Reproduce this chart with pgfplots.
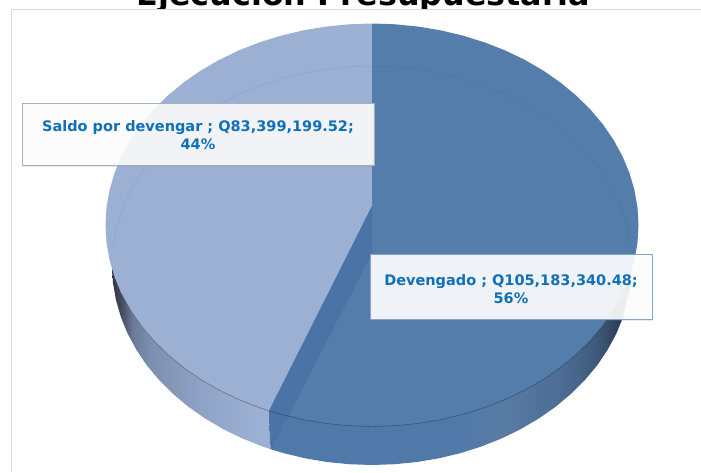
\documentclass[border=0pt]{standalone}
\usepackage{fontspec}
\setmainfont{DejaVu Sans}
\usepackage{pgfplots}
\usetikzlibrary{shadows}
\pgfplotsset{compat=1.18}
\definecolor{lightslice}{HTML}{9BB0D2}
\definecolor{darkslice}{HTML}{557DAC}
\definecolor{cutface}{HTML}{4A74A6}
\definecolor{labeltext}{HTML}{0F70B7}
\definecolor{sl0}{HTML}{2F3440}
\definecolor{sl1}{HTML}{454D5F}
\definecolor{sl2}{HTML}{6A7A98}
\definecolor{sl3}{HTML}{7D8FB0}
\definecolor{sl4}{HTML}{8EA2C5}
\definecolor{sr0}{HTML}{5079AA}
\definecolor{sr1}{HTML}{587BA4}
\definecolor{sr2}{HTML}{4D6C96}
\definecolor{sr3}{HTML}{466488}
\definecolor{sr4}{HTML}{3A5372}
\definecolor{sr5}{HTML}{2A3D57}
% the gradients run over the middle 50bp of the declared 100bp
\pgfdeclarehorizontalshading{sideleft}{100bp}{
  color(0bp)=(sl0);
  color(25bp)=(sl0);
  color(28bp)=(sl1);
  color(31.5bp)=(sl2);
  color(37bp)=(sl3);
  color(52.5bp)=(sl4);
  color(70bp)=(lightslice);
  color(100bp)=(lightslice)}
\pgfdeclarehorizontalshading{sideright}{100bp}{
  color(0bp)=(sr0);
  color(50bp)=(sr0);
  color(57.5bp)=(sr1);
  color(65bp)=(sr2);
  color(68bp)=(sr3);
  color(71bp)=(sr4);
  color(73.5bp)=(sr5);
  color(100bp)=(sr5)}
\begin{document}
\begin{tikzpicture}
\path[use as bounding box,clip] (0,0) rectangle (701pt,472pt);
\begin{axis}[
  at={(0,0)}, anchor=south west,
  scale only axis, width=701pt, height=472pt,
  xmin=0, xmax=701, ymin=0, ymax=472, y dir=reverse,
  hide axis, clip=false,
]
% title, cut by the top edge and by the chart area as in the source
\node[anchor=base, font=\fontsize{31.8pt}{36pt}\selectfont\bfseries, text=black]
  at (axis cs:363.5,5.5) {Ejecución Presupuestaria};
\addplot[draw=none, fill=white, forget plot] coordinates {
  (0,8.5) (701,8.5) (701,472) (0,472)
} --cycle;
% frame of the chart area
\addplot[draw=black!15, line width=0.9pt, forget plot] coordinates {
  (11.5,472) (11.5,9.5) (701,9.5)
};
% side of the 44% slice, lower rim
\addplot[draw=none, shade, shading=sideleft, forget plot] coordinates {
  (270.4,449.1) (262.1,446.3) (242,438.3) (222.9,428.9) (204.9,418.3)
  (188.2,406.6) (172.8,393.7) (159,379.9) (146.8,365.3) (136.4,349.8)
  (127.7,333.7) (120.9,317.1) (116,300.1) (113,282.9) (112,265.5)
  (269,411)
} --cycle;
% side of the 56% slice, lower rim
\addplot[draw=none, shade, shading=sideright, forget plot] coordinates {
  (631,265.5) (631,282.9) (623.1,317.1) (616.3,333.7) (607.6,349.8)
  (597.2,365.3) (585,379.9) (571.2,393.7) (555.8,406.6) (539.1,418.3)
  (521.1,428.9) (502,438.3) (481.9,446.3) (460.9,453) (439.3,458.2)
  (417.1,462) (394.7,464.2) (372,465) (349.3,464.2) (326.9,462)
  (304.7,458.2) (283.1,453) (270.4,449.1) (269,411) (372,225)
} --cycle;
% Saldo por devengar, top face
\addplot[draw=none, fill=lightslice, forget plot] coordinates {
  (372,23.5) (348.8,24.3) (325.7,26.6) (303,30.4) (280.9,35.7)
  (259.4,42.4) (238.7,50.5) (219.1,59.9) (200.7,70.6) (183.6,82.5)
  (167.9,95.5) (153.7,109.4) (141.2,124.2) (130.5,139.8) (121.6,156.1)
  (114.6,172.8) (109.6,190) (106.5,207.4) (105.5,225) (106.5,242.6)
  (109.6,260) (114.6,277.2) (121.6,293.9) (130.5,310.2) (141.2,325.8)
  (153.7,340.6) (167.9,354.5) (183.6,367.5) (200.7,379.4) (219.1,390.1)
  (238.7,399.5) (259.4,407.6) (269,410.9) (372,206)
} --cycle;
% Devengado, top face
\addplot[draw=none, fill=darkslice, forget plot] coordinates {
  (372,23.5) (395.2,24.3) (418.3,26.6) (441,30.4) (463.1,35.7)
  (484.6,42.4) (505.3,50.5) (524.9,59.9) (543.3,70.6) (560.4,82.5)
  (576.1,95.5) (590.3,109.4) (602.8,124.2) (613.5,139.8) (622.4,156.1)
  (629.4,172.8) (634.4,190) (637.5,207.4) (638.5,225) (637.5,242.6)
  (634.4,260) (629.4,277.2) (622.4,293.9) (613.5,310.2) (602.8,325.8)
  (590.3,340.6) (576.1,354.5) (560.4,367.5) (543.3,379.4) (524.9,390.1)
  (505.3,399.5) (484.6,407.6) (463.1,414.3) (441,419.6) (418.3,423.4)
  (395.2,425.7) (372,426.5) (348.8,425.7) (325.7,423.4) (303,419.6)
  (280.9,414.3) (269,410.9) (372,206)
} --cycle;
% cut face seen through the slices
\addplot[draw=none, fill=cutface, forget plot] coordinates {
  (372,206) (269,410.9) (271.7,449) (372,253)
} --cycle;
% rim line of the top face
\addplot[draw=black!45!darkslice, line width=0.4pt, forget plot] coordinates {
  (622.4,293.9) (613.5,310.2) (602.8,325.8) (590.3,340.6) (576.1,354.5)
  (560.4,367.5) (543.3,379.4) (524.9,390.1) (505.3,399.5) (484.6,407.6)
  (463.1,414.3) (441,419.6) (418.3,423.4) (395.2,425.7) (372,426.5)
  (348.8,425.7) (325.7,423.4) (303,419.6) (280.9,414.3) (269,410.9)
};
\addplot[draw=black!45!lightslice, line width=0.4pt, forget plot] coordinates {
  (269,410.9) (259.4,407.6) (238.7,399.5) (219.1,390.1) (200.7,379.4)
  (183.6,367.5) (167.9,354.5) (153.7,340.6) (141.2,325.8) (130.5,310.2)
  (121.6,293.9)
};
% lower ellipse showing faintly through the top
\addplot[draw=black, opacity=0.07, line width=0.5pt, forget plot] coordinates {
  (113,248.1) (116,230.9) (120.9,213.9) (127.7,197.3) (136.4,181.2)
  (146.8,165.7) (159,151.1) (172.8,137.3) (188.2,124.4) (204.9,112.7)
  (222.9,102.1) (242,92.7) (262.1,84.7) (283.1,78) (304.7,72.8)
  (326.9,69) (349.3,66.8) (372,66) (394.7,66.8) (417.1,69)
  (439.3,72.8) (460.9,78) (481.9,84.7) (502,92.7) (521.1,102.1)
  (539.1,112.7) (555.8,124.4) (571.2,137.3) (585,151.1) (597.2,165.7)
  (607.6,181.2) (616.3,197.3) (623.1,213.9) (628,230.9) (631,248.1)
};
% labels
\node[draw=black!20!lightslice!70!white, line width=0.8pt, fill=white, fill opacity=0.87, text opacity=1,
  minimum width=352pt, minimum height=62pt, inner sep=0pt, align=center,
  drop shadow={shadow xshift=1pt, shadow yshift=-1.5pt, opacity=0.18},
  text=labeltext, font=\fontsize{14.5pt}{18pt}\selectfont\bfseries]
  at (axis cs:198,134) {\rule{0pt}{14pt}Saldo por devengar ; Q83,399,199.52;\\44\%};
\node[draw=darkslice!70!white, line width=0.8pt, fill=white, fill opacity=0.9, text opacity=1,
  minimum width=282pt, minimum height=65pt, inner sep=0pt, align=center,
  drop shadow={shadow xshift=1pt, shadow yshift=-1.5pt, opacity=0.18},
  text=labeltext, font=\fontsize{14.5pt}{18pt}\selectfont\bfseries]
  at (axis cs:511,286.5) {\rule{0pt}{16pt}Devengado ; Q105,183,340.48;\\56\%};
\end{axis}
\end{tikzpicture}
\end{document}
